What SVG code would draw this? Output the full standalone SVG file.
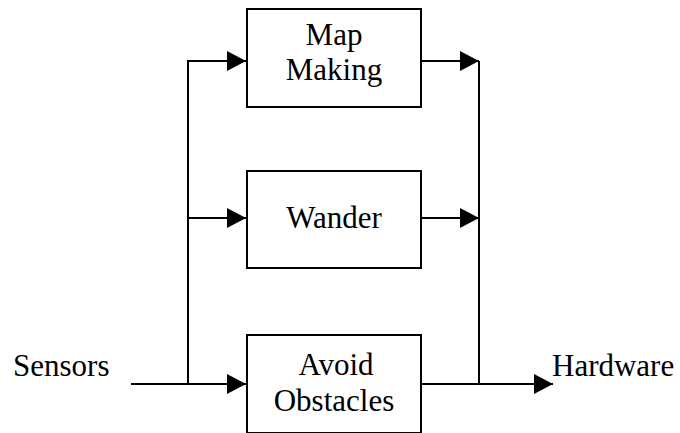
<svg xmlns="http://www.w3.org/2000/svg" width="680" height="433" viewBox="0 0 680 433">
<style>
.box{fill:#fff;stroke:#000;stroke-width:2}
.ln{fill:none;stroke:#000;stroke-width:2}
.t{font-family:'Liberation Serif','Times New Roman','DejaVu Serif',serif;font-size:31px;fill:#000}
.c{text-anchor:middle}
</style>
<defs>
<marker id="ah" viewBox="0 0 19 20" refX="19" refY="10" markerWidth="19" markerHeight="20" markerUnits="userSpaceOnUse" orient="auto">
<path d="M0,0 L19,10 L0,20 Z" fill="#000"/>
</marker>
</defs>
<rect width="680" height="433" fill="#fff"/>
<g id="connectors">
<path class="ln" d="M131,384 L246,384" marker-end="url(#ah)"/>
<path class="ln" d="M188,384 L188,61 L246,61" marker-end="url(#ah)"/>
<path class="ln" d="M188,218 L246,218" marker-end="url(#ah)"/>
<path class="ln" d="M421,61 L479,61" marker-end="url(#ah)"/>
<path class="ln" d="M421,218 L479,218" marker-end="url(#ah)"/>
<path class="ln" d="M479,61 L479,384"/>
<path class="ln" d="M421,384 L553,384" marker-end="url(#ah)"/>
</g>
<g id="map-making">
<rect class="box" x="247" y="9" width="174" height="98"/>
<text class="t c" font-family="Liberation Serif, serif" x="334" y="45">Map</text>
<text class="t c" font-family="Liberation Serif, serif" x="334" y="80">Making</text>
</g>
<g id="wander">
<rect class="box" x="247" y="171" width="174" height="97"/>
<text class="t c" font-family="Liberation Serif, serif" x="334" y="228">Wander</text>
</g>
<g id="avoid-obstacles">
<rect class="box" x="247" y="335" width="174" height="98"/>
<text class="t c" font-family="Liberation Serif, serif" x="336" y="375">Avoid</text>
<text class="t c" font-family="Liberation Serif, serif" x="334" y="411">Obstacles</text>
</g>
<g id="sensors">
<text class="t" font-family="Liberation Serif, serif" x="13" y="376">Sensors</text>
</g>
<g id="hardware">
<text class="t" font-family="Liberation Serif, serif" x="552" y="376">Hardware</text>
</g>
</svg>
